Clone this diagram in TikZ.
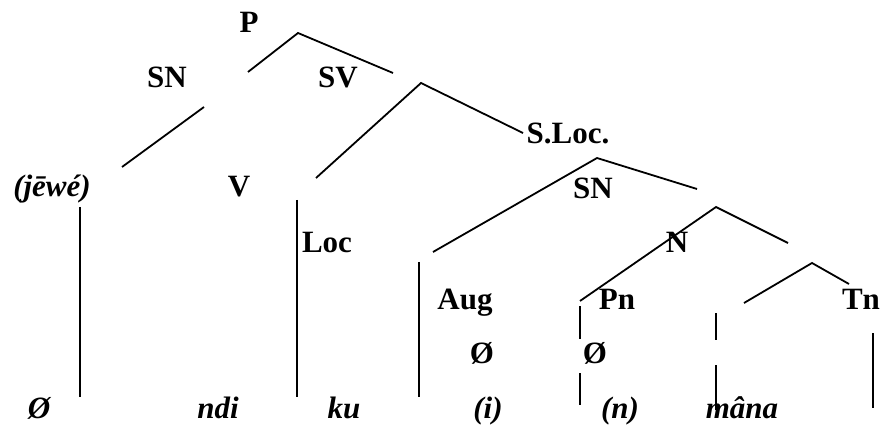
\documentclass[tikz,border=0pt]{standalone}
\usepackage{fontspec}
\setmainfont{Liberation Serif}
\tikzset{branch/.style={draw=black,line width=1.8pt},
  cat/.style={font=\bfseries\fontsize{31}{36}\selectfont,anchor=base,inner sep=0pt},
  word/.style={cat,font=\bfseries\itshape\fontsize{31}{36}\selectfont}}

\begin{document}
\begin{tikzpicture}[x=1pt,y=-1pt]
\useasboundingbox (0,0) rectangle (891,430);
% category labels
\node[cat] (P) at (249,33) {P};
\node[cat] (SN) at (167,88) {SN};
\node[cat] (SV) at (338,88) {SV};
\node[word] (jewe) at (52,197) {(jēwé)};
\node[cat] (V) at (239,197) {V};
\node[cat] (SLoc) at (568,144) {S.Loc.};
\node[cat] (SNb) at (593,199) {SN};
\node[cat] (Loc) at (327,253) {Loc};
\node[cat] (N) at (677,253) {N};
\node[cat] (Aug) at (465,309) {Aug};
\node[cat] (Pn) at (617,309) {Pn};
\node[cat] (Tn) at (861,309) {Tn};
\node[cat] (nulA) at (482,363) {Ø};
\node[cat] (nulP) at (595,363) {Ø};
% words
\node[word] (nul) at (39,418) {Ø};
\node[word] (ndi) at (218,418) {ndi};
\node[word] (ku) at (344,418) {ku};
\node[word] (i) at (488,418) {(i)};
\node[word] (n) at (620,418) {(n)};
\node[word] (mana) at (742,418) {mâna};
% branch ends
\coordinate (topP) at (298,33);\coordinate (snP) at (248,72);\coordinate (svP) at (393,73);
\coordinate (snU) at (204,107);\coordinate (snD) at (122,167);
\coordinate (topSV) at (421,83);\coordinate (svL) at (316,178);\coordinate (svR) at (523,133);
\coordinate (topSL) at (597,158);\coordinate (slL) at (433,252);\coordinate (slR) at (697,189);
\coordinate (topN) at (716,207);\coordinate (nL) at (580,301);\coordinate (nR) at (788,243);
\coordinate (topTn) at (812,263);\coordinate (tnL) at (744,303);\coordinate (tnR) at (849,284);
\draw[branch] (snP) -- (topP) -- (svP);
\draw[branch] (snU) -- (snD);
\draw[branch] (svL) -- (topSV) -- (svR);
\draw[branch] (slL) -- (topSL) -- (slR);
\draw[branch] (nL) -- (topN) -- (nR);
\draw[branch] (tnL) -- (topTn) -- (tnR);
% stems
\draw[branch] (80,207) coordinate (jewT) -- (80,397) coordinate (jewB);
\draw[branch] (297,200) coordinate (vT) -- (297,397) coordinate (vB);
\draw[branch] (419,262) coordinate (augT) -- (419,397) coordinate (augB);
\draw[branch] (580,306) coordinate (pnT) -- (580,339) coordinate (pnM);
\draw[branch] (580,373) coordinate (pnN) -- (580,405) coordinate (pnB);
\draw[branch] (716,313) coordinate (maT) -- (716,340) coordinate (maM);
\draw[branch] (716,365) coordinate (maN) -- (716,410) coordinate (maB);
\draw[branch] (873,333) coordinate (tnT) -- (873,408) coordinate (tnB);
\end{tikzpicture}
\end{document}
